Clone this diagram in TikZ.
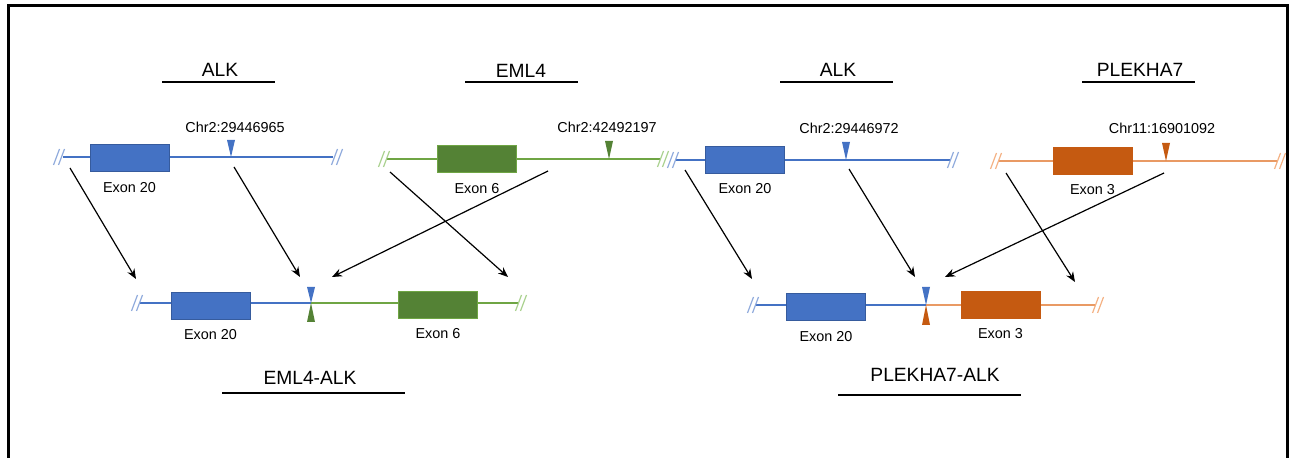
\documentclass[tikz,border=0pt]{standalone}
\usepackage{fontspec}
\setmainfont{Liberation Sans}
\usetikzlibrary{arrows.meta,positioning}
\definecolor{exblue}{HTML}{4472C4}
\definecolor{brblue}{HTML}{8FAADC}
\definecolor{exgreen}{HTML}{548235}
\definecolor{lngreen}{HTML}{6FA544}
\definecolor{brgreen}{HTML}{A9D18E}
\definecolor{exorange}{HTML}{C55A11}
\definecolor{lnorange}{HTML}{E99A64}
\definecolor{brorange}{HTML}{F4B183}
\tikzset{
  exon/.style={draw, rectangle, inner sep=0pt, minimum width=39.5pt, minimum height=13.5pt},
  lbl/.style={font=\fontsize{7.2}{8}\selectfont, inner sep=2.4pt},
  title/.style={font=\fontsize{9.6}{11}\selectfont},
  arr/.style={-{Stealth[length=5pt,width=4pt]}, line width=0.6pt},
  brk/.pic={\draw[line width=0.6pt] (-5.5,8) -- (0.5,-8) (-0.5,8) -- (5.5,-8);}
}

\begin{document}
\begin{tikzpicture}[x=0.5pt,y=-0.5pt]
            \useasboundingbox (0,0) rectangle (1289,458);
            % frame
            \draw[line width=1.5pt] (8,470) -- (8,6) -- (1287,6) -- (1287,470);
            
            % titles
            \node[title] (tALK1) at (220,70) {ALK};
            \node[title] (tEML) at (521,71) {EML4};
            \node[title] (tALK2) at (838,70) {ALK};
            \node[title] (tPLE) at (1140,70) {PLEKHA7};
            \node[title] (tEA) at (310,378) {EML4-ALK};
            \node[title] (tPA) at (935,375) {PLEKHA7-ALK};
            \draw[line width=1.2pt] (162,82) -- (275,82) (465,82) -- (578,82) (780,82) -- (893,82) (1082,82) -- (1195,82);
            \draw[line width=1.2pt] (222,393) -- (405,393) (838,395) -- (1021,395);
            
            % ALK (left)
            \draw[exblue, line width=1pt] (63,157) -- (333,157);
            \pic[brblue] at (59,157) {brk};
            \pic[brblue] at (337,157) {brk};
            \node[exon, fill=exblue, draw=exblue!80!black] (ex20a) at (129.5,158) {};
            \node[lbl, below=2.5pt of ex20a] (lex20a) {Exon 20};
            \fill[exblue] (227,140) -- (235,140) -- (231,157) -- cycle;
            \node[lbl] (chrA) at (235,127) {Chr2:29446965};
            
            % EML4
            \draw[lngreen, line width=0.9pt] (387,159) -- (660,159);
            \pic[brgreen] at (384,159) {brk};
            \pic[brgreen] at (663,159) {brk};
            \node[exon, fill=exgreen, draw=lngreen] (ex6) at (477,159) {};
            \node[lbl, below=2.5pt of ex6] (lex6) {Exon 6};
            \fill[exgreen] (605,141) -- (613,141) -- (609,159) -- cycle;
            \node[lbl] (chrE) at (607,127) {Chr2:42492197};
            
            % EML4-ALK fusion
            \draw[exblue, line width=1pt] (140,303) -- (311,303);
            \draw[lngreen, line width=0.9pt] (311,303) -- (518,303);
            \pic[brblue] at (137,303) {brk};
            \pic[brgreen] at (521,303) {brk};
            \node[exon, fill=exblue, draw=exblue!80!black] (fex20a) at (210.5,305.5) {};
            \node[exon, fill=exgreen, draw=lngreen] (fex6) at (438,304.5) {};
            \node[lbl, below=2.5pt of fex20a] (lfex20a) {Exon 20};
            \node[lbl, below=2.5pt of fex6] (lfex6) {Exon 6};
            \fill[exblue] (307,287) -- (315,287) -- (311,303) -- cycle;
            \fill[exgreen] (307,322) -- (315,322) -- (311,303) -- cycle;
            
            % ALK (right)
            \draw[exblue, line width=1pt] (676,160) -- (950,160);
            \pic[brblue] at (673,160) {brk};
            \pic[brblue] at (953,160) {brk};
            \node[exon, fill=exblue, draw=exblue!80!black] (ex20b) at (745,159.5) {};
            \node[lbl, below=2.5pt of ex20b] (lex20b) {Exon 20};
            \fill[exblue] (842,142) -- (850,142) -- (846,160) -- cycle;
            \node[lbl] (chrB) at (849,128) {Chr2:29446972};
            
            % PLEKHA7
            \draw[lnorange, line width=0.8pt] (999,161) -- (1277,161);
            \pic[brorange] at (996,161) {brk};
            \pic[brorange] at (1280,161) {brk};
            \node[exon, fill=exorange, draw=exorange] (ex3) at (1092.5,160.5) {};
            \node[lbl, below=2.5pt of ex3] (lex3) {Exon 3};
            \fill[exorange] (1162,143) -- (1170,143) -- (1166,161) -- cycle;
            \node[lbl] (chrP) at (1162,128) {Chr11:16901092};
            
            % PLEKHA7-ALK fusion
            \draw[exblue, line width=1pt] (756,305) -- (926,305);
            \draw[lnorange, line width=0.8pt] (926,305) -- (1095,305);
            \pic[brblue] at (753,305) {brk};
            \pic[brorange] at (1098,305) {brk};
            \node[exon, fill=exblue, draw=exblue!80!black] (fex20b) at (826,307) {};
            \node[exon, fill=exorange, draw=exorange] (fex3) at (1000.5,304.5) {};
            \node[lbl, below=2.5pt of fex20b] (lfex20b) {Exon 20};
            \node[lbl, below=2.5pt of fex3] (lfex3) {Exon 3};
            \fill[exblue] (922,287) -- (930,287) -- (926,305) -- cycle;
            \fill[exorange] (922,325) -- (930,325) -- (926,305) -- cycle;
            
            % arrow ends
            \coordinate (s1) at (70,168);   \coordinate (e1) at (136,279);
            \coordinate (s2) at (234,167);  \coordinate (e2) at (300,277);
            \coordinate (s3) at (548,171);  \coordinate (e3) at (332,277);
            \coordinate (s4) at (390,172);  \coordinate (e4) at (508,277);
            \coordinate (s5) at (685,170);  \coordinate (e5) at (752,279);
            \coordinate (s6) at (849,169);  \coordinate (e6) at (915,277);
            \coordinate (s7) at (1164,173); \coordinate (e7) at (945,277);
            \coordinate (s8) at (1006,173); \coordinate (e8) at (1075,282);
            \foreach \i in {1,...,8}
              \draw[arr] (s\i) -- (e\i);
\end{tikzpicture}
\end{document}
